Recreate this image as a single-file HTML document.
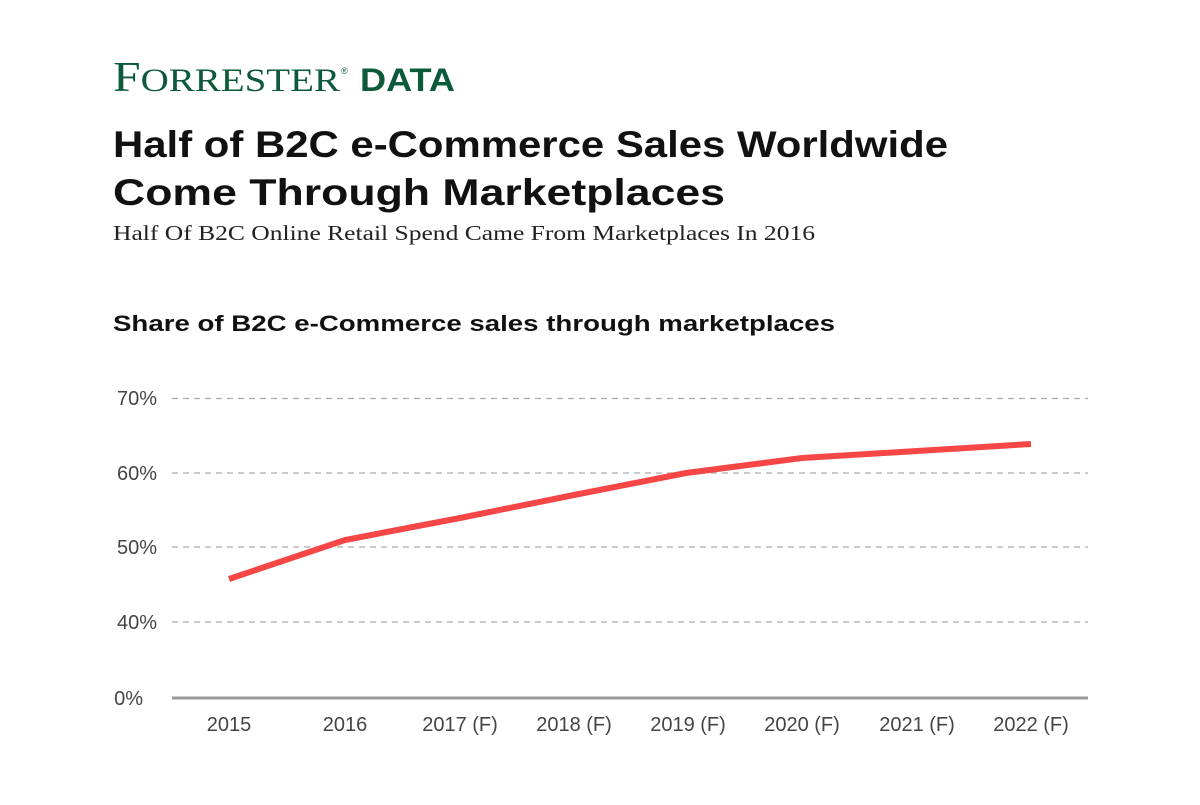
<!DOCTYPE html>
<html><head><meta charset="utf-8"><style>
body{margin:0;width:1200px;height:800px;background:#fff;overflow:hidden;font-family:"Liberation Sans",sans-serif}
</style></head><body>
<svg width="1200" height="800" xmlns="http://www.w3.org/2000/svg">
<text x="113" y="91" font-family="Liberation Serif" font-size="42" fill="#0c5a3a" textLength="227" lengthAdjust="spacingAndGlyphs">F<tspan font-size="33">ORRESTER</tspan></text>
<text x="341" y="74" font-family="Liberation Sans" font-size="9" fill="#0c5a3a">®</text>
<text x="360" y="91" font-family="Liberation Sans" font-weight="bold" font-size="32" fill="#0c5a3a" textLength="95" lengthAdjust="spacingAndGlyphs">DATA</text>
<text x="113" y="157" font-weight="bold" font-size="37" fill="#111" textLength="835" lengthAdjust="spacingAndGlyphs">Half of B2C e-Commerce Sales Worldwide</text>
<text x="113" y="205" font-weight="bold" font-size="37" fill="#111" textLength="612" lengthAdjust="spacingAndGlyphs">Come Through Marketplaces</text>
<text x="113" y="240" font-family="Liberation Serif" font-size="21" fill="#222" textLength="702" lengthAdjust="spacingAndGlyphs">Half Of B2C Online Retail Spend Came From Marketplaces In 2016</text>
<text x="113" y="331" font-weight="bold" font-size="22" fill="#111" textLength="722" lengthAdjust="spacingAndGlyphs">Share of B2C e-Commerce sales through marketplaces</text>
<g stroke="#aaa" stroke-width="1.2" stroke-dasharray="6,5">
<line x1="172" y1="398.5" x2="1088" y2="398.5"/>
<line x1="172" y1="473" x2="1088" y2="473"/>
<line x1="172" y1="547" x2="1088" y2="547"/>
<line x1="172" y1="622" x2="1088" y2="622"/>
</g>
<line x1="172" y1="698" x2="1088" y2="698" stroke="#999" stroke-width="3"/>
<g font-size="20" fill="#444" text-anchor="end">
<text x="157" y="405">70%</text><text x="157" y="480">60%</text><text x="157" y="554">50%</text><text x="157" y="629">40%</text><text x="143" y="705">0%</text>
</g>
<g font-size="20" fill="#444" text-anchor="middle">
<text x="229" y="731">2015</text><text x="345" y="731">2016</text><text x="460" y="731">2017 (F)</text><text x="574" y="731">2018 (F)</text><text x="688" y="731">2019 (F)</text><text x="802" y="731">2020 (F)</text><text x="917" y="731">2021 (F)</text><text x="1031" y="731">2022 (F)</text>
</g>
<polyline points="229,579 345,540 460,518 574,495 686,473 802,458 917,451 1031,444" fill="none" stroke="#f64646" stroke-width="6"/>
</svg>
</body></html>
